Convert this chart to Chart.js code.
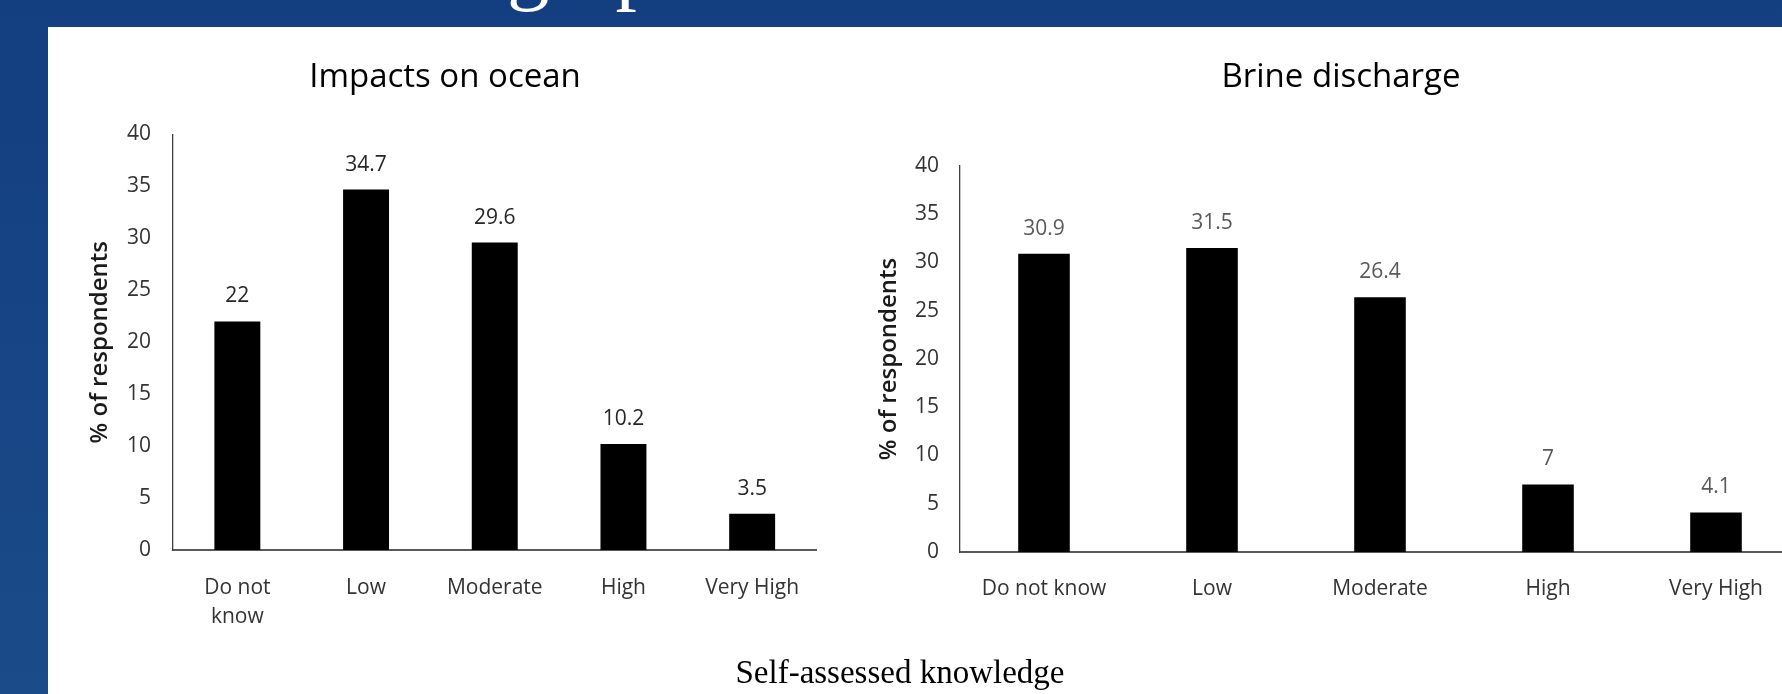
<!DOCTYPE html>
<html>
<head>
<meta charset="utf-8">
<script src="https://cdn.jsdelivr.net/npm/chart.js@4/dist/chart.umd.min.js"></script>
<style>
  html, body { margin: 0; padding: 0; width: 1782px; height: 694px; overflow: hidden; background: #143f80; }
  #frame { position: absolute; left: 0; top: 0; width: 1782px; height: 694px;
           background: linear-gradient(180deg, #133e80 0%, #1b4b89 100%); overflow: hidden; }
  #panel { position: absolute; left: 48px; top: 27px; right: 0; bottom: 0; background: #ffffff; }
  #heading { position: absolute; left: 507px; top: -77px; font: 85px "Liberation Serif", serif;
             line-height: 85px; color: #ffffff; white-space: nowrap; }
  #xcaption { position: absolute; left: 600px; width: 600px; top: 656px; text-align: center;
              font: 33px "Liberation Serif", serif; line-height: 33px; color: #000; white-space: nowrap; }
  canvas { position: absolute; top: 0; left: 0; }
</style>
</head>
<body>
<div id="frame">
  <div id="heading">graphic</div>
  <div id="panel"></div>
  <div style="position:absolute;left:0;top:0;width:840px;height:694px"><canvas id="oceanChart"></canvas></div>
  <div style="position:absolute;left:840px;top:0;width:1000px;height:694px"><canvas id="brineChart"></canvas></div>
  <div id="xcaption"></div>
</div>
<script>
// Survey answers: share of respondents by self-assessed knowledge level
const knowledgeLevels = ['Do not know', 'Low', 'Moderate', 'High', 'Very High'];
const oceanLevelLabels = [['Do not', 'know'], 'Low', 'Moderate', 'High', 'Very High'];
const oceanImpacts = [22, 34.7, 29.6, 10.2, 3.5];
const brineDischarge = [30.9, 31.5, 26.4, 7, 4.1];
const yRange = { min: 0, max: 40, step: 5 };
const chartTitles = ['Impacts on ocean', 'Brine discharge'];
const yAxisTitle = '% of respondents';
const xAxisCaption = 'Self-assessed knowledge';

document.getElementById('xcaption').textContent = xAxisCaption;

const FONT = '"Open Sans", "Noto Sans", sans-serif';

// Writes each bar's value above it
const valueLabels = {
  id: 'valueLabels',
  afterDatasetsDraw(chart, args, opts) {
    const ctx = chart.ctx;
    const meta = chart.getDatasetMeta(0);
    const values = chart.data.datasets[0].data;
    ctx.save();
    ctx.font = '21px ' + FONT;
    ctx.fillStyle = opts.color;
    ctx.textAlign = 'center';
    ctx.textBaseline = 'alphabetic';
    meta.data.forEach((bar, i) => {
      ctx.fillText(String(values[i]), bar.x, bar.y - 19);
    });
    ctx.restore();
  }
};

// Panel heading drawn at a fixed spot above the plot
const panelTitle = {
  id: 'panelTitle',
  afterDraw(chart, args, opts) {
    const ctx = chart.ctx;
    ctx.save();
    ctx.font = '33px ' + FONT;
    ctx.fillStyle = '#000';
    ctx.textAlign = 'center';
    ctx.textBaseline = 'alphabetic';
    ctx.fillText(opts.text, opts.x, opts.y);
    ctx.restore();
  }
};

function makeChart(id, cfg) {
  const canvas = document.getElementById(id);
  canvas.width = cfg.width;
  canvas.height = 694;
  canvas.style.width = cfg.width + 'px';
  canvas.style.height = '694px';
  return new Chart(canvas, {
    type: 'bar',
    data: {
      labels: cfg.labels,
      datasets: [{
        data: cfg.values,
        backgroundColor: '#000000',
        borderWidth: 0,
        categoryPercentage: 1,
        barPercentage: cfg.barPct
      }]
    },
    options: {
      responsive: false,
      animation: false,
      events: [],
      layout: { padding: { top: cfg.top, right: cfg.right, left: 0, bottom: 0 } },
      plugins: {
        legend: { display: false },
        tooltip: { enabled: false },
        valueLabels: { color: cfg.valueColor },
        panelTitle: { text: cfg.title, x: cfg.titleX, y: 87 }
      },
      scales: {
        x: {
          grid: { display: false, drawTicks: false },
          border: { display: true, color: '#595959', width: 2 },
          ticks: { color: '#333333', padding: cfg.xPad, maxRotation: 0, autoSkip: false,
                   font: { family: FONT, size: 21, lineHeight: 1.38 } },
          afterFit(s) { s.height = 694 - cfg.bottom; }
        },
        y: {
          min: yRange.min, max: yRange.max,
          grid: { display: false, drawTicks: false },
          border: { display: true, color: '#404040', width: 1.3 },
          ticks: { stepSize: yRange.step, color: '#333333', padding: cfg.tickPad,
                   font: { family: FONT, size: 21 } },
          title: { display: true, text: yAxisTitle, color: '#1a1a1a',
                   font: { family: FONT, size: 24, weight: '600' },
                   padding: { top: cfg.yTitleX - 14.4, bottom: 0 } },
          afterFit(s) { s.width = cfg.axisX; }
        }
      }
    },
    plugins: [valueLabels, panelTitle]
  });
}

makeChart('oceanChart', {
  width: 840, labels: oceanLevelLabels, values: oceanImpacts, barPct: 0.357,
  top: 134.5, bottom: 550, right: 840 - 816.5, axisX: 173, tickPad: 22, xPad: 24, yTitleX: 100,
  title: chartTitles[0], titleX: 445, valueColor: '#262626'
});

makeChart('brineChart', {
  width: 1000, labels: knowledgeLevels, values: brineDischarge, barPct: 0.307,
  top: 166, bottom: 552, right: 40, axisX: 120, tickPad: 21, xPad: 23, yTitleX: 49,
  title: chartTitles[1], titleX: 1341 - 840, valueColor: '#595959'
});
</script>
</body>
</html>
